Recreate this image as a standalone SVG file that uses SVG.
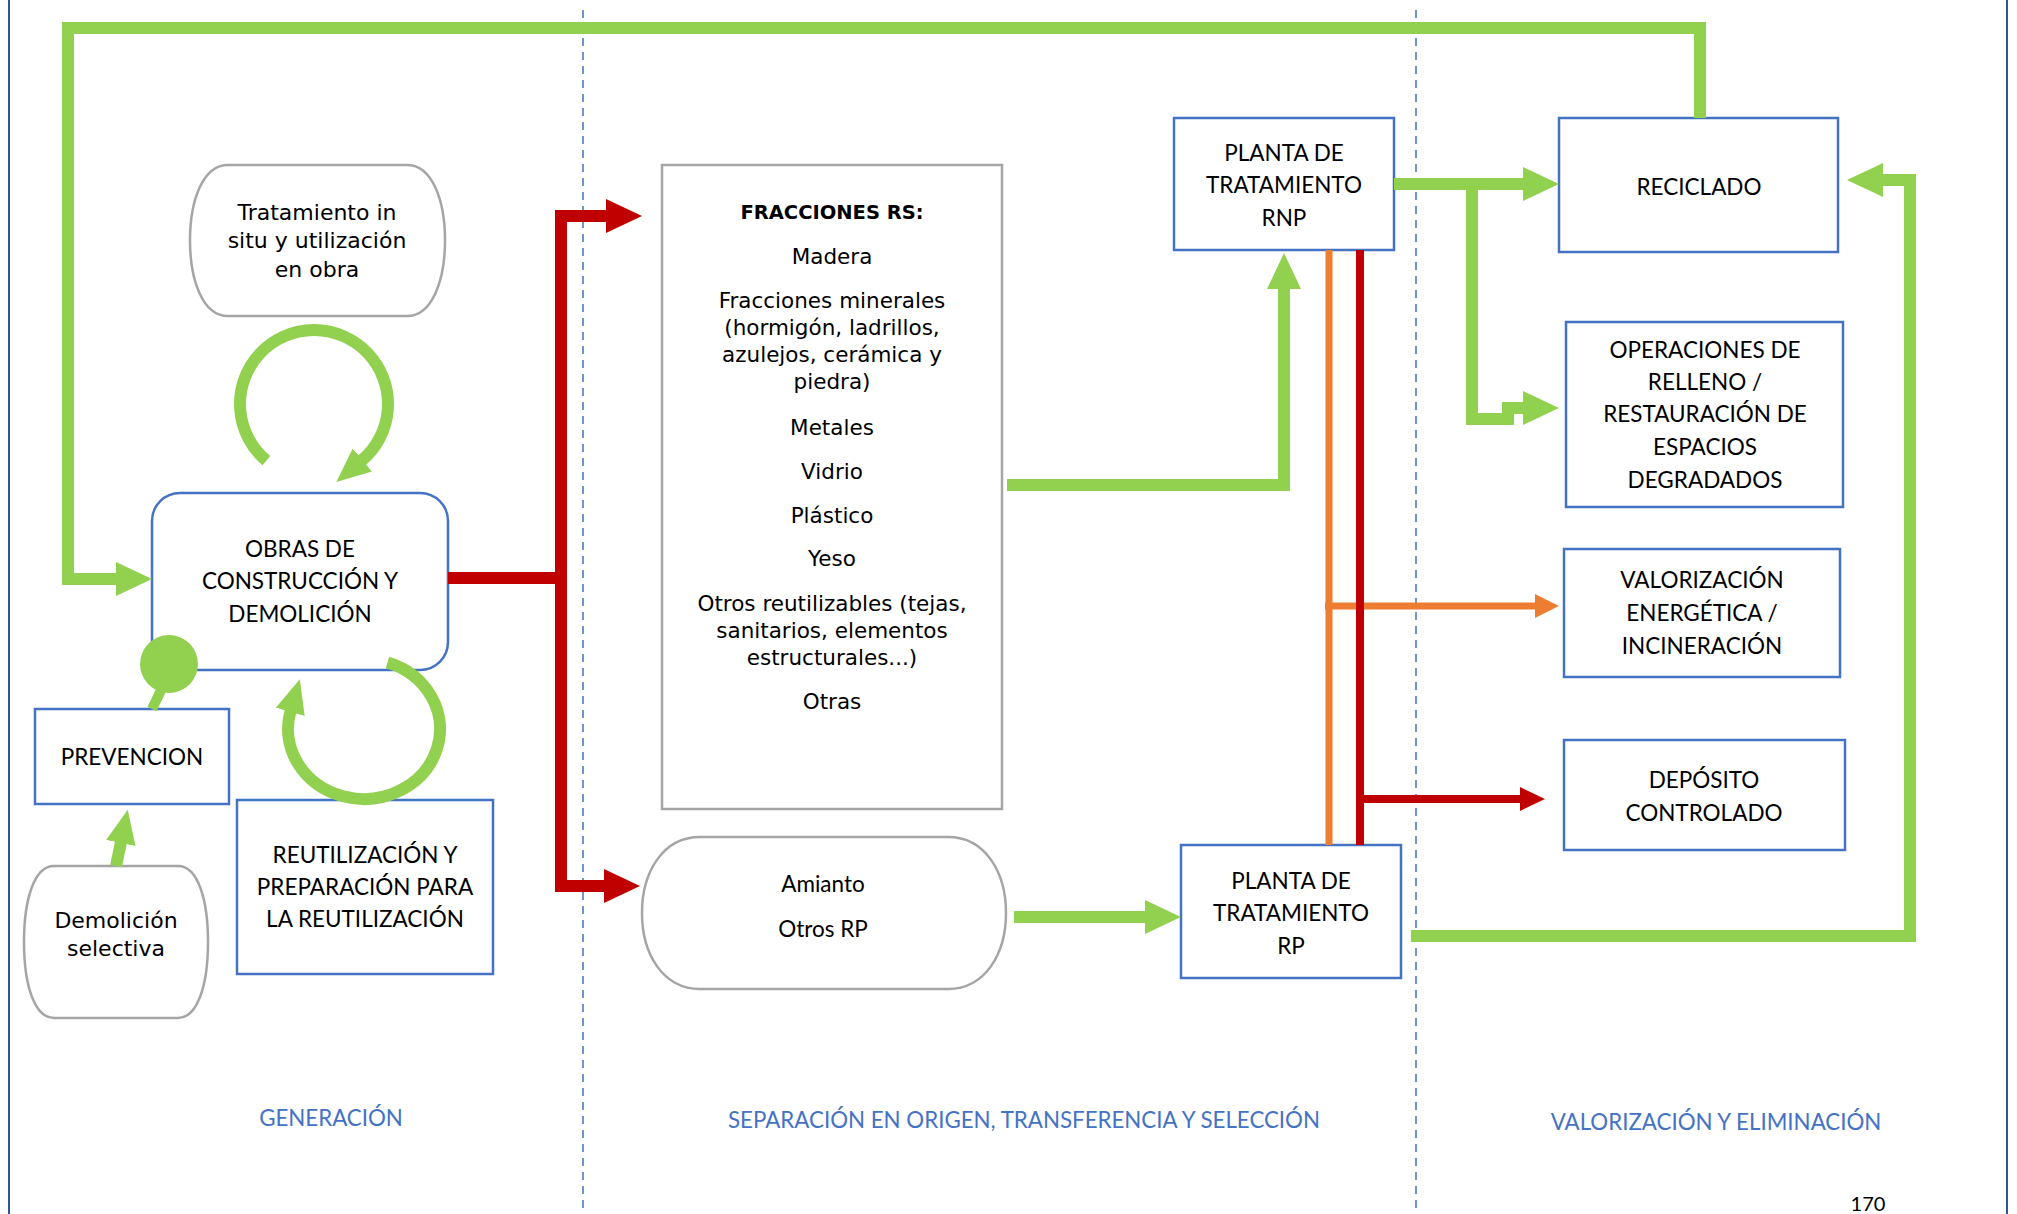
<svg xmlns="http://www.w3.org/2000/svg" width="2017" height="1214" viewBox="0 0 2017 1214">
<style>
.bx{fill:#fff;stroke:#4472C4;stroke-width:2.5}
.gr{fill:#fff;stroke:#A5A5A5;stroke-width:2.5}
.t{font-family:Lato,"Liberation Sans",sans-serif;font-size:22.5px;fill:#000;text-anchor:middle}
.v{font-family:"DejaVu Sans",Verdana,sans-serif;font-size:21.5px;fill:#000;text-anchor:middle}
.vb{font-family:"DejaVu Sans",Verdana,sans-serif;font-size:19.5px;font-weight:bold;fill:#000;text-anchor:middle}
.vt{font-family:"DejaVu Sans",Verdana,sans-serif;font-size:22px;fill:#000;text-anchor:middle}
.sec{font-family:Lato,"Liberation Sans",sans-serif;font-size:22.3px;fill:#4472C4;text-anchor:middle}
.pg{font-family:Lato,"Liberation Sans",sans-serif;font-size:20px;fill:#000;text-anchor:middle}
.g{fill:none;stroke:#92D050;stroke-width:12;stroke-linejoin:miter}
.r{fill:none;stroke:#C00000;stroke-width:12;stroke-linejoin:miter}
.o{fill:none;stroke:#ED7D31;stroke-width:7}
.r2{fill:none;stroke:#C00000;stroke-width:8}
</style>
<defs>
<marker id="ag" markerUnits="userSpaceOnUse" markerWidth="40" markerHeight="40" refX="1" refY="17" orient="auto"><path d="M0,0 L36,17 L0,34 Z" fill="#92D050"/></marker>
<marker id="ags" markerUnits="userSpaceOnUse" markerWidth="40" markerHeight="40" refX="1" refY="15" orient="auto"><path d="M0,0 L34,15 L0,30 Z" fill="#92D050"/></marker>
<marker id="ar" markerUnits="userSpaceOnUse" markerWidth="40" markerHeight="40" refX="1" refY="17" orient="auto"><path d="M0,0 L36,17 L0,34 Z" fill="#C00000"/></marker>
<marker id="ars" markerUnits="userSpaceOnUse" markerWidth="40" markerHeight="40" refX="1" refY="17" orient="auto-start-reverse"><path d="M0,0 L36,17 L0,34 Z" fill="#C00000"/></marker>
<marker id="ao" markerUnits="userSpaceOnUse" markerWidth="30" markerHeight="30" refX="1" refY="12" orient="auto"><path d="M0,0 L24,12 L0,24 Z" fill="#ED7D31"/></marker>
<marker id="ar2" markerUnits="userSpaceOnUse" markerWidth="30" markerHeight="30" refX="1" refY="12" orient="auto"><path d="M0,0 L25,12 L0,24 Z" fill="#C00000"/></marker>
</defs>
<rect width="2017" height="1214" fill="#fff"/>
<g id="frame">
<line x1="9" y1="0" x2="9" y2="1214" stroke="#2F5597" stroke-width="2"/>
<line x1="2007" y1="0" x2="2007" y2="1214" stroke="#2F5597" stroke-width="2"/>
<line x1="583" y1="10" x2="583" y2="1214" stroke="#4472C4" stroke-width="1.5" stroke-dasharray="8,6"/>
<line x1="1416" y1="10" x2="1416" y2="1214" stroke="#4472C4" stroke-width="1.5" stroke-dasharray="8,6"/>
</g>
<g id="n-tratamiento">
<path class="gr" d="M228,165 H407 C432,165 445,200 445,240.5 C445,281 432,316 407,316 H228 C203,316 190,281 190,240.5 C190,200 203,165 228,165 Z"/>
<text class="vt" x="317" y="220">Tratamiento in</text>
<text class="vt" x="317" y="248">situ y utilización</text>
<text class="vt" x="317" y="277">en obra</text>
</g>
<g id="n-obras">
<rect class="bx" x="152" y="493" width="296" height="177" rx="28"/>
<text class="t" x="300" y="557">OBRAS DE</text>
<text class="t" x="300" y="589">CONSTRUCCIÓN Y</text>
<text class="t" x="300" y="622">DEMOLICIÓN</text>
</g>
<g id="n-prevencion">
<rect class="bx" x="35" y="709" width="194" height="95"/>
<text class="t" x="132" y="765">PREVENCION</text>
</g>
<g id="n-demolicion">
<path class="gr" d="M54,866 H178 C198,866 208,900 208,942 C208,984 198,1018 178,1018 H54 C34,1018 24,984 24,942 C24,900 34,866 54,866 Z"/>
<text class="vt" x="116" y="928">Demolición</text>
<text class="vt" x="116" y="956">selectiva</text>
</g>
<g id="n-reutilizacion">
<rect class="bx" x="237" y="800" width="256" height="174"/>
<text class="t" x="365" y="863">REUTILIZACIÓN Y</text>
<text class="t" x="365" y="895">PREPARACIÓN PARA</text>
<text class="t" x="365" y="927">LA REUTILIZACIÓN</text>
</g>
<g id="n-fracciones">
<rect class="gr" x="662" y="165" width="340" height="644"/>
<text class="vb" x="832" y="219">FRACCIONES RS:</text>
<text class="v" x="832" y="264">Madera</text>
<text class="v" x="832" y="308">Fracciones minerales</text>
<text class="v" x="832" y="335">(hormigón, ladrillos,</text>
<text class="v" x="832" y="362">azulejos, cerámica y</text>
<text class="v" x="832" y="389">piedra)</text>
<text class="v" x="832" y="435">Metales</text>
<text class="v" x="832" y="479">Vidrio</text>
<text class="v" x="832" y="523">Plástico</text>
<text class="v" x="832" y="566">Yeso</text>
<text class="v" x="832" y="611">Otros reutilizables (tejas,</text>
<text class="v" x="832" y="638">sanitarios, elementos</text>
<text class="v" x="832" y="665">estructurales...)</text>
<text class="v" x="832" y="709">Otras</text>
</g>
<g id="n-amianto">
<path class="gr" d="M700,837 H948 C985,837 1006,872 1006,913 C1006,954 985,989 948,989 H700 C663,989 642,954 642,913 C642,872 663,837 700,837 Z"/>
<text class="t" x="823" y="892">Amianto</text>
<text class="t" x="823" y="937">Otros RP</text>
</g>
<g id="n-rnp">
<rect class="bx" x="1174" y="118" width="220" height="132"/>
<text class="t" x="1284" y="161">PLANTA DE</text>
<text class="t" x="1284" y="193">TRATAMIENTO</text>
<text class="t" x="1284" y="226">RNP</text>
</g>
<g id="n-rp">
<rect class="bx" x="1181" y="845" width="220" height="133"/>
<text class="t" x="1291" y="889">PLANTA DE</text>
<text class="t" x="1291" y="921">TRATAMIENTO</text>
<text class="t" x="1291" y="954">RP</text>
</g>
<g id="n-reciclado">
<rect class="bx" x="1559" y="118" width="279" height="134"/>
<text class="t" x="1699" y="195">RECICLADO</text>
</g>
<g id="n-operaciones">
<rect class="bx" x="1566" y="322" width="277" height="185"/>
<text class="t" x="1705" y="358">OPERACIONES DE</text>
<text class="t" x="1705" y="390">RELLENO /</text>
<text class="t" x="1705" y="422">RESTAURACIÓN DE</text>
<text class="t" x="1705" y="455">ESPACIOS</text>
<text class="t" x="1705" y="488">DEGRADADOS</text>
</g>
<g id="n-valorizacion">
<rect class="bx" x="1564" y="549" width="276" height="128"/>
<text class="t" x="1702" y="588">VALORIZACIÓN</text>
<text class="t" x="1702" y="621">ENERGÉTICA /</text>
<text class="t" x="1702" y="654">INCINERACIÓN</text>
</g>
<g id="n-deposito">
<rect class="bx" x="1564" y="740" width="281" height="110"/>
<text class="t" x="1704" y="788">DEPÓSITO</text>
<text class="t" x="1704" y="821">CONTROLADO</text>
</g>
<g id="connectors">
<path class="g" d="M1700,118 V28 H68 V579 H117" marker-end="url(#ag)"/>
<path class="g" d="M266.4,460.7 A74,74 0 1 1 361.6,460.7" marker-end="url(#ags)"/>
<path class="g" d="M387.5,662.4 A76,70 0 1 1 290.6,710.9" marker-end="url(#ags)"/>
<line x1="152" y1="709" x2="166" y2="680" stroke="#92D050" stroke-width="10"/>
<circle cx="169" cy="664" r="29" fill="#92D050"/>
<path class="g" d="M116,866 L121,842" stroke-width="10" marker-end="url(#ags)"/>
<path class="r" d="M448,578 H561"/>
<path class="r" d="M607,216 H561 V886 H605" marker-start="url(#ars)" marker-end="url(#ar)"/>
<path class="g" d="M1007,485 H1284 V288" marker-end="url(#ag)"/>
<path class="g" d="M1394,184 H1524" marker-end="url(#ag)"/>
<path class="g" d="M1472,184 V419 H1508 V408 H1524" marker-end="url(#ag)"/>
<path class="g" d="M1014,917 H1146" marker-end="url(#ag)"/>
<path class="g" d="M1411,936 H1910 V180 H1882" marker-end="url(#ag)"/>
<path class="o" d="M1329,250 V845"/>
<path class="o" d="M1325,606 H1536" marker-end="url(#ao)"/>
<path class="r2" d="M1360,250 V845"/>
<path class="r2" d="M1360,799 H1521" marker-end="url(#ar2)"/>
</g>
<g id="labels">
<text class="sec" x="331" y="1126">GENERACIÓN</text>
<text class="sec" x="1024" y="1128">SEPARACIÓN EN ORIGEN, TRANSFERENCIA Y SELECCIÓN</text>
<text class="sec" x="1716" y="1130">VALORIZACIÓN Y ELIMINACIÓN</text>
<text class="pg" x="1868" y="1211">170</text>
</g>
</svg>
